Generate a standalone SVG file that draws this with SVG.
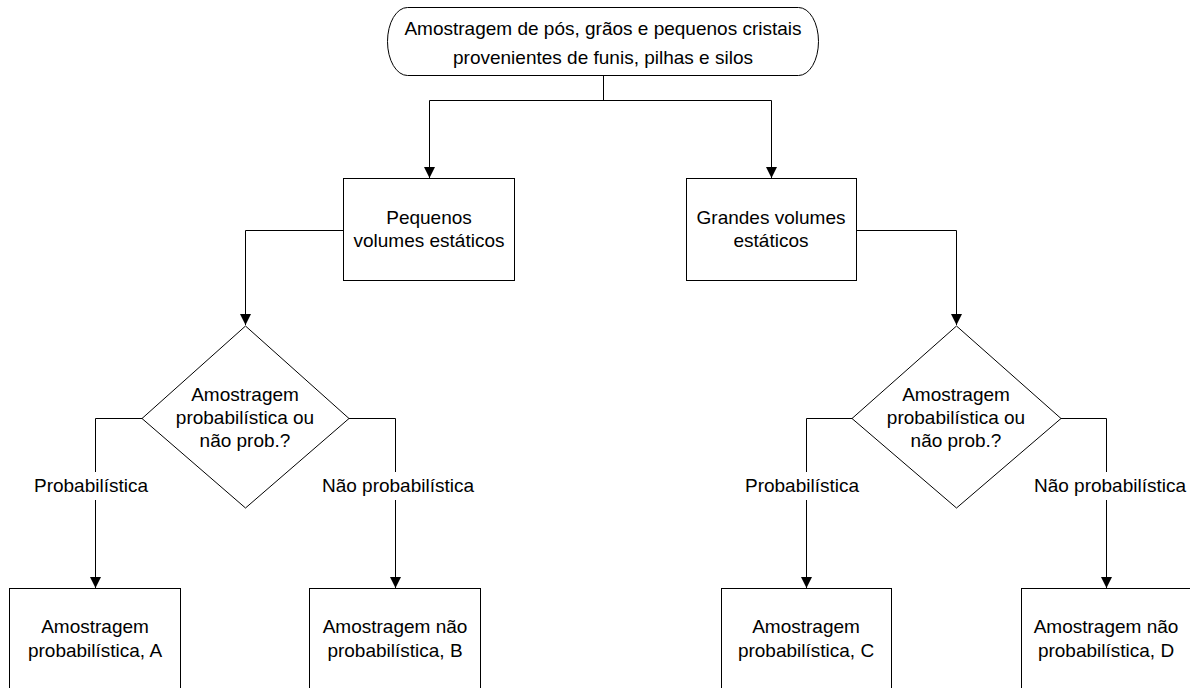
<svg xmlns="http://www.w3.org/2000/svg" width="1190" height="688" viewBox="0 0 1190 688">
  <defs>
    <marker id="arrow" markerUnits="userSpaceOnUse" markerWidth="12" markerHeight="12" refX="11" refY="6" orient="auto">
      <path d="M0,0.5 L11,6 L0,11.5 Z" fill="#000"/>
    </marker>
    <style>
      .shape { fill: #fff; stroke: #000; stroke-width: 1; }
      .conn { fill: none; stroke: #000; stroke-width: 1; }
      .arr { marker-end: url(#arrow); }
      text { font-family: "Liberation Sans", Arial, sans-serif; font-size: 19px; fill: #000; text-anchor: middle; }
      .lblbg { fill: #fff; stroke: none; }
    </style>
  </defs>
  <rect width="1190" height="688" fill="#fff"/>

  <!-- connectors -->
  <g id="connectors">
    <path class="conn" d="M603.5,76 V100.5 M429.5,100.5 H771.5"/>
    <path class="conn arr" d="M429.5,100.5 V178"/>
    <path class="conn arr" d="M771.5,100.5 V178"/>
    <path class="conn arr" d="M343,230.5 H245.5 V325"/>
    <path class="conn arr" d="M857,230.5 H956.5 V325"/>
    <path class="conn arr" d="M142,418.5 H95.5 V588"/>
    <path class="conn arr" d="M349,418.5 H395.5 V588"/>
    <path class="conn arr" d="M852,418.5 H806.5 V588"/>
    <path class="conn arr" d="M1061,418.5 H1106.5 V588"/>
    <g id="edge-labels">
      <rect class="lblbg" x="30" y="472" width="122" height="28"/>
      <text x="91" y="492">Probabilística</text>
      <rect class="lblbg" x="318" y="472" width="160" height="28"/>
      <text x="398" y="492">Não probabilística</text>
      <rect class="lblbg" x="741" y="472" width="122" height="28"/>
      <text x="802" y="492">Probabilística</text>
      <rect class="lblbg" x="1029" y="472" width="161" height="28"/>
      <text x="1110" y="492">Não probabilística</text>
    </g>
  </g>

  <!-- start terminator -->
  <g id="start">
    <rect class="shape" x="387.5" y="7.5" width="431" height="68" rx="20" ry="34"/>
    <text x="603" y="35">Amostragem de pós, grãos e pequenos cristais</text>
    <text x="603" y="64">provenientes de funis, pilhas e silos</text>
  </g>

  <g id="small-volumes">
    <rect class="shape" x="343.5" y="178.5" width="171" height="102"/>
    <text x="429" y="224">Pequenos</text>
    <text x="429" y="247">volumes estáticos</text>
  </g>

  <g id="large-volumes">
    <rect class="shape" x="686.5" y="178.5" width="170" height="102"/>
    <text x="771" y="224">Grandes volumes</text>
    <text x="771" y="247">estáticos</text>
  </g>

  <g id="decision-left">
    <polygon class="shape" points="245.5,326 349,418.5 245.5,508 142,418.5"/>
    <text x="245" y="401">Amostragem</text>
    <text x="245" y="424">probabilística ou</text>
    <text x="245" y="447">não prob.?</text>
  </g>

  <g id="decision-right">
    <polygon class="shape" points="956.5,326 1061,418.5 956.5,508 852,418.5"/>
    <text x="956" y="401">Amostragem</text>
    <text x="956" y="424">probabilística ou</text>
    <text x="956" y="447">não prob.?</text>
  </g>

  <g id="result-a">
    <rect class="shape" x="9.5" y="588.5" width="171" height="110"/>
    <text x="95" y="633">Amostragem</text>
    <text x="95" y="657">probabilística, A</text>
  </g>

  <g id="result-b">
    <rect class="shape" x="309.5" y="588.5" width="171" height="110"/>
    <text x="395" y="633">Amostragem não</text>
    <text x="395" y="657">probabilística, B</text>
  </g>

  <g id="result-c">
    <rect class="shape" x="721.5" y="588.5" width="170" height="110"/>
    <text x="806" y="633">Amostragem</text>
    <text x="806" y="657">probabilística, C</text>
  </g>

  <g id="result-d">
    <rect class="shape" x="1021.5" y="588.5" width="171" height="110"/>
    <text x="1106" y="633">Amostragem não</text>
    <text x="1106" y="657">probabilística, D</text>
  </g>
</svg>
